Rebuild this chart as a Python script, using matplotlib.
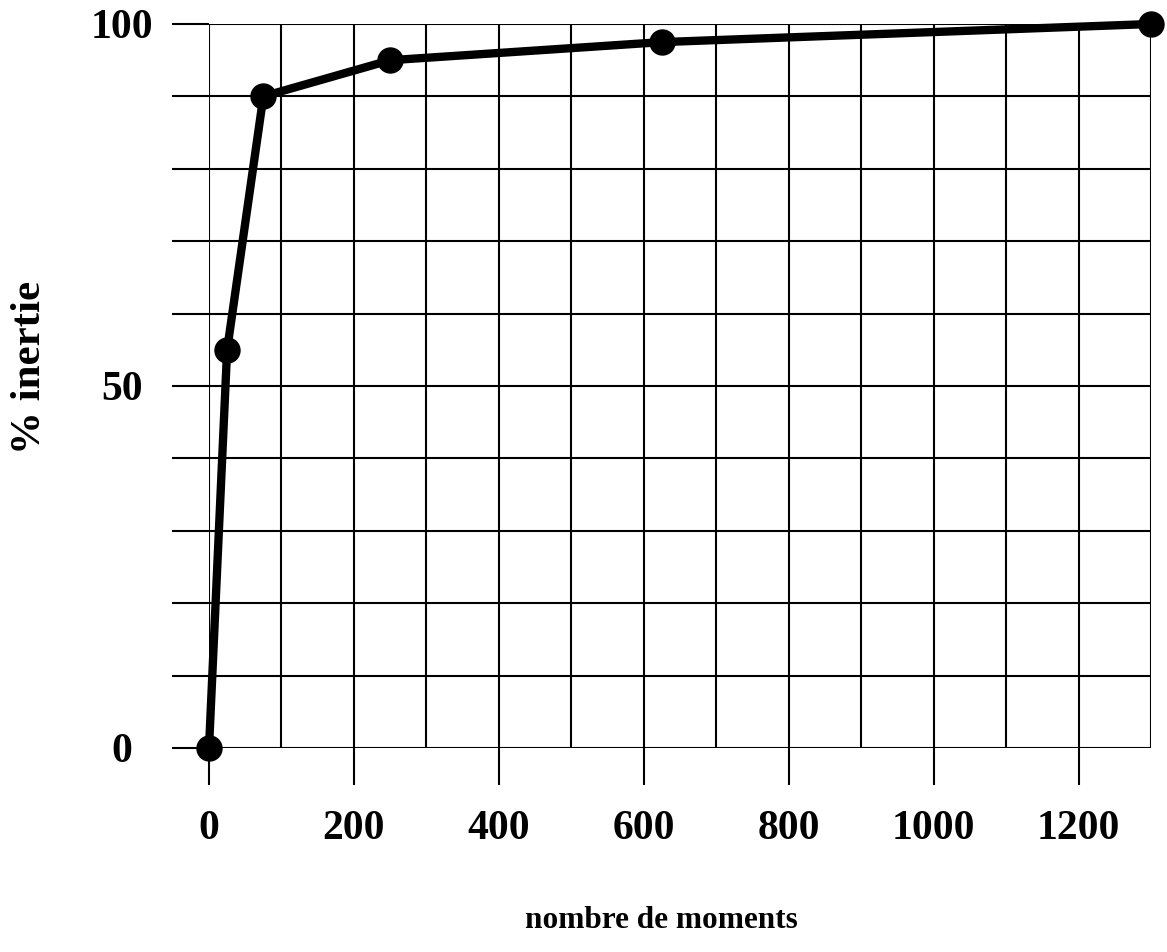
import matplotlib
matplotlib.use("Agg")
import matplotlib.pyplot as plt
import numpy as np

# Cumulative inertia (%) as a function of the number of moments kept
nombre_moments = [0, 25, 75, 250, 625, 1300]
inertie = [0, 55, 90, 95, 97.5, 100]

x_major = [0, 200, 400, 600, 800, 1000, 1200]
x_labels = ["0", "200", "400", "600", "800", "1000", "1200"]
y_labels = {0: "0", 50: "50", 100: "100"}

plt.rcParams["font.family"] = ["Liberation Serif", "DejaVu Serif"]
plt.rcParams["font.weight"] = "bold"

W, H = 1167, 952
fig = plt.figure(figsize=(W / 100, H / 100), dpi=100)
ax = fig.add_axes([209 / W, 1 - 748 / H, (1151 - 209) / W, (748 - 24) / H])

ax.set_xlim(0, 1300)
ax.set_ylim(0, 100)

# grid every 100 moments and every 10 %
for xv in np.arange(0, 1301, 100):
    ax.axvline(xv, color="black", lw=1.5, zorder=1)
for yv in np.arange(0, 101, 10):
    ax.axhline(yv, color="black", lw=1.5, zorder=1)

for s in ax.spines.values():
    s.set_visible(False)

ax.set_xticks(x_major)
ax.set_xticklabels(x_labels, fontsize=30, fontweight="bold")
ax.set_yticks(np.arange(0, 101, 10))
ax.set_yticklabels([y_labels.get(int(v), "") for v in np.arange(0, 101, 10)],
                   fontsize=30, fontweight="bold")
ax.tick_params(axis="x", length=26.6, width=1.5, pad=18, direction="out")
ax.tick_params(axis="y", length=26.6, width=1.5, pad=36, direction="out")
for lab in ax.get_yticklabels():
    lab.set_horizontalalignment("center")

ax.plot(nombre_moments, inertie, color="black", lw=6, marker="o",
        markersize=18, clip_on=False, zorder=5)

fig.text(661 / W, 1 - 920 / H, "nombre de moments", fontsize=22.5,
         fontweight="bold", ha="center", va="center")
fig.text(30 / W, 1 - 367 / H, "% inertie", fontsize=31, fontweight="bold",
         ha="center", va="center", rotation=90)

fig.savefig("out.png", dpi=100, facecolor="white")
